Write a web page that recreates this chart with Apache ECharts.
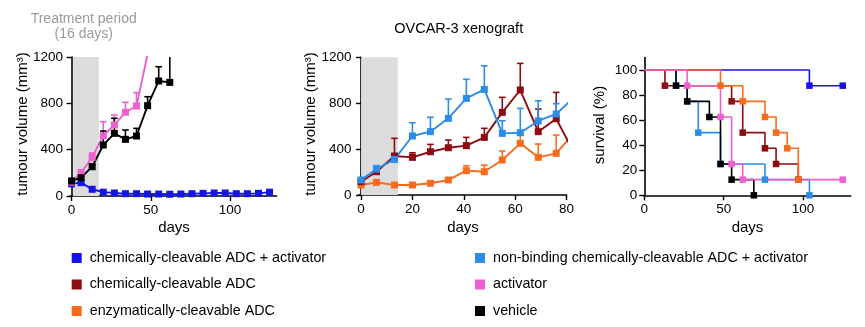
<!DOCTYPE html>
<html>
<head>
<meta charset="utf-8">
<script src="https://cdn.jsdelivr.net/npm/echarts@6/dist/echarts.min.js"></script>
<style>
  html, body { margin: 0; padding: 0; background: #fff; }
  #chart { width: 865px; height: 327px; }
</style>
</head>
<body>
<div id="chart"></div>
<script>
// ---- group colours ----
const C_CHEM_ACT = '#1414e6';
const C_CHEM = '#8c0c12';
const C_ENZ = '#f96b1c';
const C_NB = '#2b8de8';
const C_ACT = '#ee5fd0';
const C_VEH = '#000000';

const NAME_CHEM_ACT = 'chemically-cleavable ADC + activator';
const NAME_CHEM = 'chemically-cleavable ADC';
const NAME_ENZ = 'enzymatically-cleavable ADC';
const NAME_NB = 'non-binding chemically-cleavable ADC + activator';
const NAME_ACT = 'activator';
const NAME_VEH = 'vehicle';

// ---- tumour growth, left panel (mean, mm3; SEM upward) ----
const days1 = [0, 6, 13, 20, 27, 34, 41, 48, 55, 62, 69, 76, 83, 90, 97, 104, 111, 118, 125];
const chemActVol = [105, 115, 58, 33, 26, 20, 20, 17, 17, 15, 17, 20, 23, 26, 26, 20, 20, 23, 33];
const actDays = [0, 6, 13, 20, 27, 34, 41, 48];
const actVol = [120, 201, 333, 520, 613, 723, 777, 1225];
const actSem = [0, 23, 38, 121, 86, 86, 115, 0];
const vehDays = [0, 6, 13, 20, 27, 34, 41, 48, 55, 62];
const vehVol = [130, 158, 253, 440, 541, 489, 518, 780, 993, 981];
const vehSem = [0, 10, 20, 121, 130, 81, 66, 77, 123, 320];
const treat1 = [1, 17.2];

// ---- tumour growth, middle panel ----
const days2 = [0, 6, 13, 20, 27, 34, 41, 48, 55, 62, 69, 76, 83];
const nbVol = [131, 226, 310, 514, 552, 668, 842, 920, 537, 543, 645, 706, 853];
const nbSem = [10, 30, 40, 116, 125, 168, 166, 206, 110, 212, 176, 90, 0];
const chemVol = [116, 203, 340, 328, 377, 412, 430, 502, 720, 915, 552, 665, 364];
const chemSem = [10, 20, 154, 40, 64, 67, 72, 79, 131, 232, 197, 229, 0];
const enzVol = [87, 110, 87, 87, 102, 131, 212, 203, 305, 450, 328, 363, 545];
const enzSem = [5, 10, 5, 5, 8, 10, 43, 57, 78, 70, 116, 159, 0];
const treat2 = [0, 14.3];

// ---- survival (%) ----
const survChemActDays = [0, 104, 125];
const survChemAct = [100, 87.5, 87.5];
const survNbDays = [0, 20, 27, 34, 48, 76, 104];
const survNb = [100, 87.5, 75, 50, 25, 12.5, 0];
const survChemDays = [0, 13, 55, 62, 76, 83, 97];
const survChem = [100, 87.5, 75, 50, 37.5, 25, 12.5];
const survVehDays = [0, 20, 27, 41, 48, 55, 69];
const survVeh = [100, 87.5, 75, 62.5, 25, 12.5, 0];
const survEnzDays = [0, 48, 62, 76, 83, 90, 97];
const survEnz = [100, 87.5, 75, 62.5, 50, 37.5, 12.5];
const survActDays = [0, 27, 48, 55, 62, 125];
const survAct = [100, 87.5, 62.5, 25, 12.5, 12.5];

// ---- tick labels ----
const volTicks = [0, 400, 800, 1200];
const dayTicks1 = [0, 50, 100];
const dayTicks2 = [0, 20, 40, 60, 80];
const dayTicks3 = [0, 50, 100];
const survTicks = [0, 20, 40, 60, 80, 100];

const FONT = "'Liberation Sans', Arial, Helvetica, sans-serif";

const chart = echarts.init(document.getElementById('chart'), null, { renderer: 'canvas' });

const axisCommon = {
  axisLine: { show: true, lineStyle: { color: '#000', width: 1.6 } },
  axisTick: { show: true, length: 5, lineStyle: { color: '#000', width: 1.4 } },
  axisLabel: { color: '#000', fontSize: 13.5, fontFamily: FONT, margin: 7, formatter: v => String(v) },
  splitLine: { show: false }
};

function axisDef(gridIndex, min, max, ticks) {
  return Object.assign({}, axisCommon, {
    type: 'value', gridIndex, min, max,
    axisTick: Object.assign({}, axisCommon.axisTick, { customValues: ticks }),
    axisLabel: Object.assign({}, axisCommon.axisLabel, { customValues: ticks })
  });
}

function growthLine(name, idx, days, vals, color) {
  return {
    type: 'line', name, xAxisIndex: idx, yAxisIndex: idx,
    data: days.map((d, i) => [d, vals[i]]),
    clip: true,
    symbol: 'rect', symbolSize: 7,
    itemStyle: { color },
    lineStyle: { color, width: 1.9 },
    z: 3, silent: true, animation: false
  };
}

function errorBars(name, idx, days, vals, sems, color) {
  return {
    type: 'custom', name, xAxisIndex: idx, yAxisIndex: idx,
    data: days.map((d, i) => [d, vals[i], sems[i]]).filter(r => r[2] > 0),
    renderItem: function (params, api) {
      const x = api.value(0), m = api.value(1), s = api.value(2);
      const p0 = api.coord([x, m]);
      const p1 = api.coord([x, m + s]);
      const cs = params.coordSys;
      if (p0[1] < cs.y) return null;
      const topY = Math.max(p1[1], cs.y);
      const children = [{
        type: 'line',
        shape: { x1: p0[0], y1: p0[1], x2: p0[0], y2: topY },
        style: { stroke: color, lineWidth: 1.6 }
      }];
      if (p1[1] >= cs.y) {
        children.push({
          type: 'line',
          shape: { x1: p0[0] - 3.3, y1: p1[1], x2: p0[0] + 3.3, y2: p1[1] },
          style: { stroke: color, lineWidth: 1.6 }
        });
      }
      return { type: 'group', children };
    },
    z: 2, silent: true, animation: false
  };
}

function treatmentBand(idx, range, ymax) {
  return {
    type: 'custom', xAxisIndex: idx, yAxisIndex: idx,
    data: [[range[0], range[1]]],
    renderItem: function (params, api) {
      const a = api.coord([api.value(0), ymax]);
      const b = api.coord([api.value(1), 0]);
      return {
        type: 'rect',
        shape: { x: a[0], y: a[1], width: b[0] - a[0], height: b[1] - a[1] },
        style: { fill: '#dcdcdc' }
      };
    },
    z: 1, silent: true, animation: false
  };
}

function survLine(name, days, vals, color) {
  return {
    type: 'line', name, xAxisIndex: 2, yAxisIndex: 2,
    step: 'end',
    data: days.map((d, i) => (i === 0 ? { value: [d, vals[i]], symbol: 'none' } : [d, vals[i]])),
    symbol: 'rect', symbolSize: 6.5,
    itemStyle: { color },
    lineStyle: { color, width: 1.6 },
    z: 3, silent: true, animation: false
  };
}

function txt(text, x, y, opts) {
  return Object.assign({
    type: 'text', x, y,
    style: Object.assign({
      text, fill: '#000', font: '15px ' + FONT, align: 'center', verticalAlign: 'middle'
    }, (opts && opts.style) || {})
  }, (opts && opts.rotation !== undefined) ? { rotation: opts.rotation } : {});
}

const legendText = { color: '#000', fontSize: 14.3, fontFamily: FONT, padding: [0, 0, 0, 3] };

const option = {
  animation: false,
  backgroundColor: '#fff',
  grid: [
    { left: 70, top: 57, width: 206.7, height: 139 },
    { left: 358.5, top: 57.3, width: 208, height: 137.7 },
    { left: 644.3, top: 57.5, width: 206.4, height: 137.8 }
  ],
  xAxis: [
    axisDef(0, -1, 129.5, dayTicks1),
    axisDef(1, -1, 80, dayTicks2),
    axisDef(2, 0, 130, dayTicks3)
  ],
  yAxis: [
    axisDef(0, 0, 1200, volTicks),
    axisDef(1, 0, 1200, volTicks),
    axisDef(2, 0, 110, survTicks)
  ],
  legend: [
    {
      orient: 'vertical', left: 66.7, top: 246, padding: 5, itemWidth: 10, itemHeight: 10, itemGap: 12.5,
      icon: 'rect', textStyle: legendText, selectedMode: false,
      data: [
        { name: NAME_CHEM_ACT, itemStyle: { color: C_CHEM_ACT } },
        { name: NAME_CHEM, itemStyle: { color: C_CHEM } },
        { name: NAME_ENZ, itemStyle: { color: C_ENZ } }
      ]
    },
    {
      orient: 'vertical', left: 470, top: 246, padding: 5, itemWidth: 10, itemHeight: 10, itemGap: 12.5,
      icon: 'rect', textStyle: legendText, selectedMode: false,
      data: [
        { name: NAME_NB, itemStyle: { color: C_NB } },
        { name: NAME_ACT, itemStyle: { color: C_ACT } },
        { name: NAME_VEH, itemStyle: { color: C_VEH } }
      ]
    }
  ],
  graphic: [
    txt('Treatment period', 83.7, 19, { style: { fill: '#9a9a9a', font: '14px ' + FONT } }),
    txt('(16 days)', 83.7, 34.5, { style: { fill: '#9a9a9a', font: '14px ' + FONT } }),
    txt('OVCAR-3 xenograft', 458.7, 29, { style: { font: '14.5px ' + FONT } }),
    txt('tumour volume (mm³)', 23, 124, { rotation: Math.PI / 2 }),
    txt('tumour volume (mm³)', 311, 124, { rotation: Math.PI / 2 }),
    txt('survival (%)', 600, 125, { rotation: Math.PI / 2 }),
    txt('days', 174, 228, { style: { font: '15px ' + FONT } }),
    txt('days', 463, 228, { style: { font: '15px ' + FONT } }),
    txt('days', 747.5, 228, { style: { font: '15px ' + FONT } })
  ],
  series: [
    // left panel
    treatmentBand(0, treat1, 1200),
    growthLine(NAME_CHEM_ACT, 0, days1, chemActVol, C_CHEM_ACT),
    errorBars(NAME_ACT, 0, actDays, actVol, actSem, C_ACT),
    growthLine(NAME_ACT, 0, actDays, actVol, C_ACT),
    errorBars(NAME_VEH, 0, vehDays, vehVol, vehSem, C_VEH),
    growthLine(NAME_VEH, 0, vehDays, vehVol, C_VEH),
    // middle panel
    treatmentBand(1, treat2, 1200),
    errorBars(NAME_ENZ, 1, days2, enzVol, enzSem, C_ENZ),
    growthLine(NAME_ENZ, 1, days2, enzVol, C_ENZ),
    errorBars(NAME_CHEM, 1, days2, chemVol, chemSem, C_CHEM),
    growthLine(NAME_CHEM, 1, days2, chemVol, C_CHEM),
    errorBars(NAME_NB, 1, days2, nbVol, nbSem, C_NB),
    growthLine(NAME_NB, 1, days2, nbVol, C_NB),
    // survival panel
    survLine(NAME_CHEM_ACT, survChemActDays, survChemAct, C_CHEM_ACT),
    survLine(NAME_NB, survNbDays, survNb, C_NB),
    survLine(NAME_CHEM, survChemDays, survChem, C_CHEM),
    survLine(NAME_VEH, survVehDays, survVeh, C_VEH),
    survLine(NAME_ENZ, survEnzDays, survEnz, C_ENZ),
    survLine(NAME_ACT, survActDays, survAct, C_ACT)
  ]
};

chart.setOption(option);
</script>
</body>
</html>
